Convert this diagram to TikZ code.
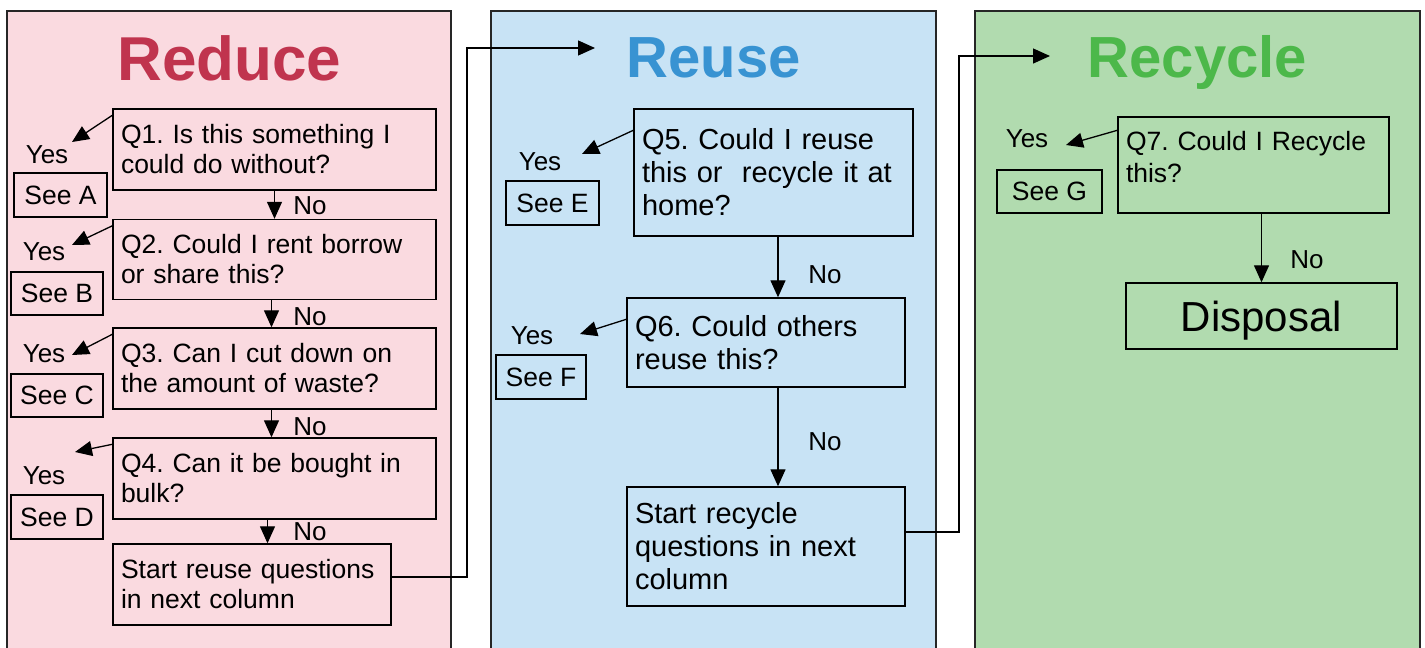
\documentclass[tikz,border=0pt]{standalone}
\usepackage{fontspec}
\setmainfont{Liberation Sans}
\frenchspacing
\usetikzlibrary{arrows.meta}
\definecolor{reducefill}{RGB}{250,218,224}
\definecolor{reusefill}{RGB}{200,227,245}
\definecolor{recyclefill}{RGB}{177,219,175}
\definecolor{reducetitle}{RGB}{192,52,78}
\definecolor{reusetitle}{RGB}{56,147,210}
\definecolor{recycletitle}{RGB}{76,184,74}
\tikzset{
  panel/.style={draw=black!85, line width=1.5pt},
  coltitle/.style={anchor=base, inner sep=0pt, font=\fontsize{58}{66}\selectfont\bfseries},
  qbox/.style={draw, line width=1.4pt, align=left, inner xsep=8pt, font=\fontsize{26.5}{30}\selectfont},
  qbig/.style={qbox, font=\fontsize{29}{33}\selectfont},
  seebox/.style={draw, line width=1.4pt, inner sep=0pt, font=\fontsize{26.5}{30}\selectfont},
  lbl/.style={inner sep=1pt, font=\fontsize{26}{30}\selectfont},
}
\begin{document}
\begin{tikzpicture}[x=1pt, y=-1pt, line width=1.3pt, >={Triangle[length=17pt,width=15pt]}]
  \useasboundingbox (0,0) rectangle (1425,648);
  \clip (0,0) rectangle (1425,648);
  % columns
  \draw[panel, fill=reducefill] (7,11) rectangle (451,700);
  \draw[panel, fill=reusefill] (491,11) rectangle (936,700);
  \draw[panel, fill=recyclefill] (975,11) rectangle (1420,700);
  \draw
    (229.5,80) node[coltitle, reducetitle, font=\fontsize{62}{70}\selectfont\bfseries] (reduce) {Reduce}
    (713.5,77) node[coltitle, reusetitle] (reuse) {Reuse}
    (1197.5,77) node[coltitle, recycletitle] (recycle) {Recycle};
  % reduce column
  \draw
    (274.5,149.5) node[qbox, text width=307pt, minimum height=81pt] (q1) {Q1. Is this something I\\could do without?}
    (274.5,259.5) node[qbox, text width=307pt, minimum height=80pt] (q2) {Q2. Could I rent borrow\\or share this?}
    (274.5,368.5) node[qbox, text width=307pt, minimum height=81pt] (q3) {Q3. Can I cut down on\\the amount of waste?}
    (274.5,478.5) node[qbox, text width=307pt, minimum height=81pt] (q4) {Q4. Can it be bought in\\bulk?}
    (252,584.5) node[qbox, text width=262pt, minimum height=81pt] (s1) {Start reuse questions\\in next column}
    (60.5,195) node[seebox, minimum width=93pt, minimum height=44pt] (seeA) {See A}
    (57,293.5) node[seebox, minimum width=92pt, minimum height=43pt] (seeB) {See B}
    (57,395.5) node[seebox, minimum width=92pt, minimum height=43pt] (seeC) {See C}
    (57,517) node[seebox, minimum width=92pt, minimum height=44pt] (seeD) {See D}
    (47,155) node[lbl] (yes1) {Yes}
    (44,252) node[lbl] (yes2) {Yes}
    (44,354) node[lbl] (yes3) {Yes}
    (44,476) node[lbl] (yes4) {Yes}
    (310,206) node[lbl] (no1) {No}
    (310,317) node[lbl] (no2) {No}
    (310,427) node[lbl] (no3) {No}
    (310,532) node[lbl] (no4) {No};
  % reuse column
  \draw
    (773.5,172.5) node[qbig, text width=263pt, minimum height=127pt] (q5) {Q5. Could I reuse\\this or\ \ recycle it at\\home?}
    (766,342.5) node[qbig, text width=262pt, minimum height=89pt] (q6) {Q6. Could others\\reuse this?}
    (766,546.5) node[qbig, text width=262pt, minimum height=119pt] (s2) {Start recycle\\questions in next\\column}
    (552.5,203) node[seebox, minimum width=93pt, minimum height=44pt] (seeE) {See E}
    (541,377) node[seebox, minimum width=90pt, minimum height=44pt] (seeF) {See F}
    (540,162) node[lbl] (yes5) {Yes}
    (532,336) node[lbl] (yes6) {Yes}
    (825,275) node[lbl] (no5) {No}
    (825,442) node[lbl] (no6) {No};
  % recycle column
  \draw
    (1253.5,165) node[qbox, font=\fontsize{26.5}{32}\selectfont, text width=255pt, minimum height=96pt] (q7) {Q7. Could I Recycle\\this?\\[-16pt]\mbox{}}
    (1261.5,316) node[qbox, minimum width=271pt, minimum height=66pt, align=center, text depth=0pt, font=\fontsize{42}{48}\selectfont] (disposal) {Disposal}
    (1049.5,191.5) node[seebox, minimum width=105pt, minimum height=43pt] (seeG) {See G}
    (1027,139) node[lbl] (yes7) {Yes}
    (1307,260) node[lbl] (no7) {No};
  % free ends
  \coordinate (tip1) at (72,142);
  \coordinate (tip2) at (72,245);
  \coordinate (tip3) at (72,355);
  \coordinate (tip4) at (75,452);
  \coordinate (tip5) at (582,154);
  \coordinate (tip6) at (580,334);
  \coordinate (tip7) at (1066,145);
  \coordinate (up1) at (467,48);
  \coordinate (reusein) at (595,48);
  \coordinate (up2) at (959,56);
  \coordinate (recyclein) at (1050,56);
  \begin{scope}[->]
    \draw ([yshift=-7pt]q1.north west) to (tip1);
    \draw ([yshift=-7pt]q2.north west) to (tip2);
    \draw ([yshift=-7pt]q3.north west) to (tip3);
    \draw ([yshift=-7pt]q4.north west) to (tip4);
    \draw ([yshift=-22pt]q5.north west) to (tip5);
    \draw ([yshift=-22pt]q6.north west) to (tip6);
    \draw ([yshift=-14pt]q7.north west) to (tip7);
    \draw (q1.south) to (q2.north);
    \draw ([xshift=-3pt]q2.south) to ([xshift=-3pt]q3.north);
    \draw ([xshift=-3pt]q3.south) to ([xshift=-3pt]q4.north);
    \draw ([xshift=-7pt]q4.south) to ([xshift=-7pt]q4.south |- s1.north);
    \draw ([xshift=4.5pt]q5.south) to ([xshift=4.5pt]q5.south |- q6.north);
    \draw ([xshift=12pt]q6.south) to ([xshift=12pt]s2.north);
    \draw (q7.south -| disposal.north) to (disposal.north);
    \draw ([yshift=7.5pt]s1.east) -| (up1) -- (reusein);
    \draw ([yshift=14.5pt]s2.east) -| (up2) -- (recyclein);
  \end{scope}
\end{tikzpicture}
\end{document}
